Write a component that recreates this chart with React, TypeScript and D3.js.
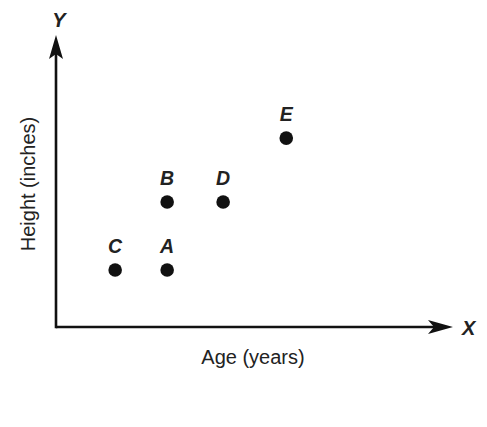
import React from 'react'
import * as d3 from 'd3'

const names = ['C', 'A', 'B', 'D', 'E']
const ages = [1.49, 2.8, 2.8, 4.21, 5.8]
const heights = [1.95, 1.95, 4.28, 4.28, 6.47]

const xLabel = 'Age (years)'
const yLabel = 'Height (inches)'

const width = 487
const height = 427
const font = 'Arial, "Liberation Sans", Helvetica, sans-serif'

const App = () => {
  const x = d3.scaleLinear().domain([0, 10]).range([56, 453])
  const y = d3.scaleLinear().domain([0, 10]).range([327, 35])

  const x0 = x(0)
  const y0 = y(0)
  const xEnd = x(10)
  const yEnd = y(10)

  // stealth style arrow heads
  const xArrow = d3.line()([
    [xEnd, y0],
    [xEnd - 25, y0 - 7],
    [xEnd - 19, y0],
    [xEnd - 25, y0 + 7]
  ])
  const yArrow = d3.line()([
    [x0, yEnd],
    [x0 - 7, yEnd + 24],
    [x0, yEnd + 19],
    [x0 + 7, yEnd + 24]
  ])

  return (
    <svg width={width} height={height} style={{ display: 'block', margin: '-8px', background: '#fff' }}>
      <rect width={width} height={height} fill="#fff" />
      <g stroke="#111" strokeWidth={2.6}>
        <line x1={x0} x2={xEnd - 18} y1={y0} y2={y0} />
        <line x1={x0} x2={x0} y1={y0 + 1.3} y2={yEnd + 18} />
      </g>
      <path d={xArrow + 'Z'} fill="#111" />
      <path d={yArrow + 'Z'} fill="#111" />

      <text x={x0 + 3} y={yEnd - 8} fontFamily={font} fontSize={20} fontWeight="bold" fontStyle="italic" textAnchor="middle" fill="#222">Y</text>
      <text x={xEnd + 9} y={y0 + 8} fontFamily={font} fontSize={20} fontWeight="bold" fontStyle="italic" fill="#222">X</text>

      <text x={253} y={364} fontFamily={font} fontSize={20} textAnchor="middle" fill="#222">{xLabel}</text>
      <text
        transform={`translate(35, 184) rotate(-90)`}
        fontFamily={font}
        fontSize={20}
        textAnchor="middle"
        fill="#222"
      >
        {yLabel}
      </text>

      {names.map((n, i) => (
        <g key={n}>
          <circle cx={x(ages[i])} cy={y(heights[i])} r={6.8} fill="#111" />
          <text
            x={x(ages[i])}
            y={y(heights[i]) - 17}
            fontFamily={font}
            fontSize={19.5}
            fontWeight="bold"
            fontStyle="italic"
            textAnchor="middle"
            fill="#222"
          >
            {n}
          </text>
        </g>
      ))}
    </svg>
  )
}

export default App
